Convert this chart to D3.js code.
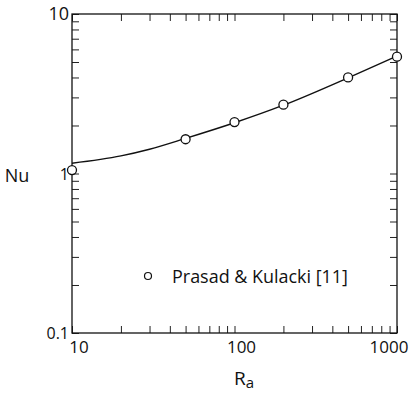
<!DOCTYPE html>
<html>
<head>
<meta charset="utf-8">
<script src="https://cdn.jsdelivr.net/npm/d3@7"></script>
<style>
  body { margin: 0; background: #fff; }
  text { font-family: "Open Sans", "Liberation Sans", sans-serif; fill: #111; }
</style>
</head>
<body>
<div id="grafica"></div>
<script>
// puntos experimentales (Prasad & Kulacki)
const raPuntos = [10, 50, 100, 200, 500, 1000];
const nuPuntos = [1.05, 1.64, 2.1, 2.7, 4.0, 5.4];

// curva continua
const raCurva = [10, 20, 30, 50, 100, 200, 500, 1000];
const nuCurva = [1.16, 1.29, 1.42, 1.66, 2.08, 2.68, 3.98, 5.45];

const xMayores = [10, 100, 1000];
const xEtiquetas = ["10", "100", "1000"];
const yMayores = [0.1, 1, 10];
const yEtiquetas = ["0.1", "1", "10"];

const W = 410, H = 393;
const izq = 72, der = 397, arr = 14, aba = 333;

const svg = d3.select("#grafica").append("svg")
    .attr("width", W).attr("height", H);

const scx = d3.scaleLog([10, 1000], [izq, der]);
const scy = d3.scaleLog([0.1, 10], [aba, arr]);

// marcas menores y mayores de ambos ejes
const xTicks = [];
[10, 100].forEach(b => d3.range(1, 10).forEach(k => xTicks.push(b * k)));
xTicks.push(1000);
const yTicks = [];
[0.1, 1].forEach(b => d3.range(1, 10).forEach(k => yTicks.push(+(b * k).toFixed(2))));
yTicks.push(10);

const tl = 7;
svg.append("g").attr("transform", `translate(0,${aba})`)
    .call(d3.axisBottom(scx).tickValues(xTicks).tickSizeInner(-tl).tickSizeOuter(0).tickFormat(""));
svg.append("g").attr("transform", `translate(0,${arr})`)
    .call(d3.axisTop(scx).tickValues(xTicks).tickSizeInner(-tl).tickSizeOuter(0).tickFormat(""));
svg.append("g").attr("transform", `translate(${izq},0)`)
    .call(d3.axisLeft(scy).tickValues(yTicks).tickSizeInner(-tl).tickSizeOuter(0).tickFormat(""));
svg.append("g").attr("transform", `translate(${der},0)`)
    .call(d3.axisRight(scy).tickValues(yTicks).tickSizeInner(-tl).tickSizeOuter(0).tickFormat(""));

svg.selectAll(".domain").remove();
svg.selectAll(".tick line").attr("stroke", "#222").attr("stroke-width", 1);

svg.append("rect")
    .attr("x", izq).attr("y", arr)
    .attr("width", der - izq).attr("height", aba - arr)
    .attr("fill", "none").attr("stroke", "#111").attr("stroke-width", 1.3);

// etiquetas de los ejes
svg.selectAll(".xlab")
    .data(xMayores)
    .join("text")
    .attr("class", "xlab")
    .attr("x", d => scx(d) + (d === 1000 ? -8 : 7))
    .attr("y", aba + 20)
    .attr("text-anchor", "middle")
    .attr("font-size", 17)
    .text((d, i) => xEtiquetas[i]);

svg.selectAll(".ylab")
    .data(yMayores)
    .join("text")
    .attr("class", "ylab")
    .attr("x", izq - 3)
    .attr("y", d => scy(d) + 6)
    .attr("text-anchor", "end")
    .attr("font-size", d => d === 10 ? 18 : 16)
    .text((d, i) => yEtiquetas[i]);

svg.append("text")
    .attr("x", 17).attr("y", 182)
    .attr("text-anchor", "middle")
    .attr("font-size", 18)
    .text("Nu");

const ra = svg.append("text")
    .attr("x", 234).attr("y", 385)
    .attr("font-size", 19);
ra.append("tspan").text("R");
ra.append("tspan").attr("dy", 3).attr("font-size", 15).text("a");

// curva
const linea = d3.line()
    .x((d, i) => scx(raCurva[i]))
    .y(d => scy(d))
    .curve(d3.curveMonotoneX);

svg.append("path")
    .datum(nuCurva)
    .attr("fill", "none")
    .attr("stroke", "#111")
    .attr("stroke-width", 1.4)
    .attr("d", linea);

svg.selectAll(".punto")
    .data(nuPuntos)
    .join("circle")
    .attr("class", "punto")
    .attr("cx", (d, i) => scx(raPuntos[i]))
    .attr("cy", d => scy(d))
    .attr("r", 4.5)
    .attr("fill", "white")
    .attr("stroke", "#111")
    .attr("stroke-width", 1.3);

// leyenda
svg.append("circle")
    .attr("cx", 148).attr("cy", 276)
    .attr("r", 3.5)
    .attr("fill", "white")
    .attr("stroke", "#111")
    .attr("stroke-width", 1.2);

svg.append("text")
    .attr("x", 172).attr("y", 283)
    .attr("font-size", 18)
    .attr("textLength", 176)
    .attr("lengthAdjust", "spacingAndGlyphs")
    .text("Prasad & Kulacki [11]");
</script>
</body>
</html>
